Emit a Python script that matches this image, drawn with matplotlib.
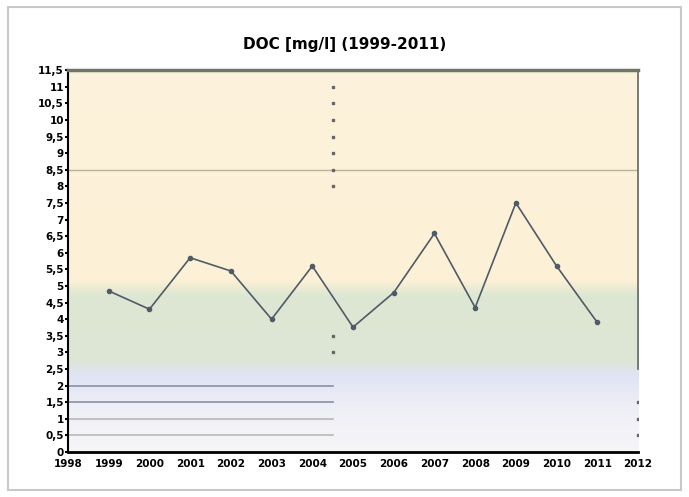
import numpy as np
import matplotlib
matplotlib.use('Agg')
import matplotlib.pyplot as plt
from matplotlib.colors import LinearSegmentedColormap
from matplotlib.patches import Rectangle

# data
years = [1999, 2000, 2001, 2002, 2003, 2004, 2005, 2006, 2007, 2008, 2009, 2010, 2011]
doc = [4.85, 4.3, 5.85, 5.45, 4.0, 5.6, 3.76, 4.8, 6.58, 4.35, 7.5, 5.6, 3.9]
xticks = list(range(1998, 2013))
yticks = [i * 0.5 for i in range(24)]
ytick_labels = [('%g' % v).replace('.', ',') for v in yticks]

# reference lines
limit_line = 8.5
low_lines = [2.0, 1.5, 1.0, 0.5]
low_line_colors = ['#8a8fa8', '#8a8fa8', '#b8b8b8', '#b8b8b8']
split_year = 2004.5
dots_mid = [11, 10.5, 10, 9.5, 9, 8.5, 8, 3.5, 3]
dots_right = [1.5, 1.0, 0.5]

fig = plt.figure(figsize=(6.89, 4.97), dpi=100)
fig.patches.append(Rectangle((0.011, 0.014), 0.978, 0.972, transform=fig.transFigure,
                             fill=False, edgecolor='#c8c8c8', linewidth=1.5))
ax = fig.add_axes([0.0987, 0.0905, 0.8273, 0.7685])

# background bands (soft gradient)
stops = [(0.0, '#f6f6f8'), (0.12, '#eeeef6'), (0.2, '#dfe3f3'), (0.24, '#dde6d6'),
         (0.41, '#dde7d2'), (0.45, '#fdf0d6'), (1.0, '#fcf3dc')]
cmap = LinearSegmentedColormap.from_list('bg', stops)
grad = np.linspace(0, 1, 256).reshape(-1, 1)
ax.imshow(grad, extent=[1998, 2012, 0, 11.5], origin='lower', aspect='auto', cmap=cmap, zorder=0)

ax.axhline(limit_line, color='#b9b39a', linewidth=1, zorder=1)
for v, c in zip(low_lines, low_line_colors):
    ax.plot([1998, split_year], [v, v], color=c, linewidth=1.2, zorder=1)
ax.plot([split_year] * len(dots_mid), dots_mid, 's', color='#666666', markersize=1.6, zorder=2)
ax.plot([2012] * len(dots_right), dots_right, 's', color='#666666', markersize=1.6, zorder=2)

ax.plot(years, doc, color='#4f5b66', linewidth=1.2, marker='o', markersize=3,
        markerfacecolor='#4f5b66', zorder=3)

ax.set_xlim(1998, 2012)
ax.set_ylim(0, 11.5)
ax.set_xticks(xticks)
ax.set_yticks(yticks)
ax.set_yticklabels(ytick_labels)
for lab in ax.get_xticklabels() + ax.get_yticklabels():
    lab.set_fontweight('bold')
    lab.set_fontsize(7.5)
ax.tick_params(axis='y', length=2, width=1.5, pad=1)
ax.tick_params(axis='x', length=0, pad=5)

ax.spines['top'].set_color('#6f7668')
ax.spines['top'].set_linewidth(2.5)
ax.spines['left'].set_linewidth(1.5)
ax.spines['bottom'].set_linewidth(2)
ax.spines['right'].set_bounds(2.5, 11.5)
ax.spines['right'].set_color('#666666')
ax.spines['right'].set_linewidth(1.2)

fig.text(0.5, 0.91, 'DOC [mg/l] (1999-2011)', ha='center', va='center',
         fontsize=11, fontweight='bold')

fig.savefig('out.png', dpi=100)
